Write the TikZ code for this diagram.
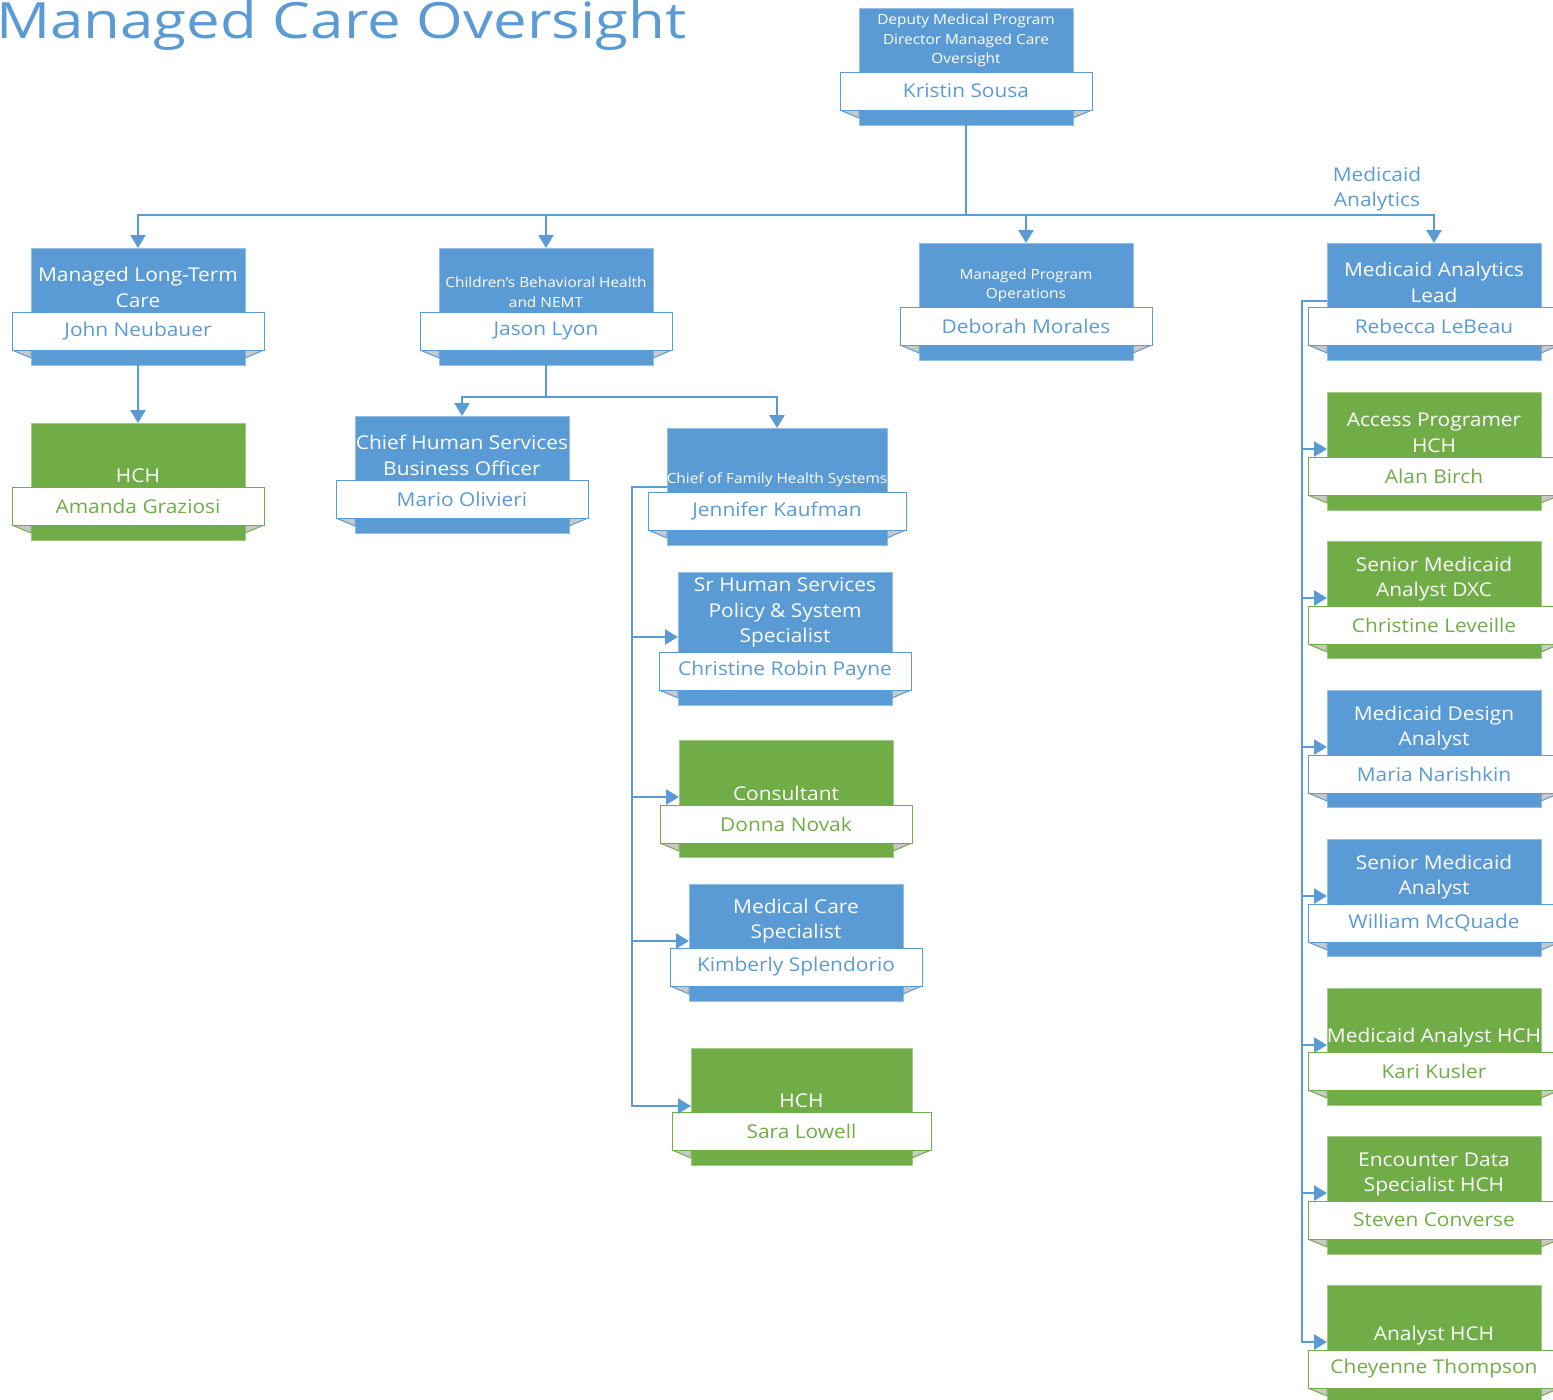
\documentclass[tikz,border=0pt]{standalone}
\usepackage{fontspec}
\setmainfont[FakeStretch=1.1]{Open Sans}
\newfontfamily\titlefont[FakeStretch=1.2]{Open Sans}
\usetikzlibrary{arrows.meta,calc}
\definecolor{oblue}{HTML}{5B9BD5}
\definecolor{ogreen}{HTML}{70AD47}
\definecolor{ofold}{HTML}{C9C9C9}
\newcommand\bigt{\fontsize{19}{25.5}\selectfont}
\newcommand\smallt{\fontsize{14}{19.5}\selectfont}
\let\ttfnt\bigt
\tikzset{
  obox/.style={rectangle, inner sep=0pt, outer sep=0pt, line width=0.8pt},
  oband/.style={rectangle, inner sep=0pt, outer sep=0pt, fill=white, line width=1pt, minimum height=38pt, font=\bigt},
  otitle/.style={text=white, align=center, inner xsep=0pt, inner ysep=4.5pt},
  conn/.style={draw=oblue, line width=2.6pt},
  arr/.style={conn, -{Triangle[width=15pt,length=13pt]}},
  lbl/.style={text=oblue, align=center, font=\bigt, inner sep=0pt}
}
% #1 id, #2 colour, #3 left, #4 top, #5 width, #6 height, #7 band offset, #8 title, #9 name
\newcommand\orgnode[9]{%
  \node[obox, fill=#2, draw=#2!65!white, minimum width=#5pt, minimum height=#6pt, anchor=north west] (#1) at (#3,#4) {};
  \coordinate (#1-bl) at ($(#1.north west)+(-19,#7+38)$);
  \coordinate (#1-br) at ($(#1.north east)+(19,#7+38)$);
  \filldraw[fill=ofold, draw=#2, line width=1pt, line join=round] (#1-bl) -- ++(19,0) -- ++(0,8) -- cycle;
  \filldraw[fill=ofold, draw=#2, line width=1pt, line join=round] (#1-br) -- ++(-19,0) -- ++(0,8) -- cycle;
  \node[oband, draw=#2, text=#2, minimum width={#5pt+38pt}, anchor=north] (#1-n) at ($(#1.north)+(0,#7)$) {#9};
  \node[otitle, font=\ttfnt, anchor=south] (#1-t) at (#1-n.north) {#8};
  \global\let\ttfnt\bigt
}
\newcommand\orgnodeS{\global\let\ttfnt\smallt\orgnode}
\begin{document}
\begin{tikzpicture}[x=1pt,y=-1pt]
\useasboundingbox (0,0) rectangle (1553,1400);
\node[anchor=base west, text=oblue, font=\titlefont\fontsize{50}{58}\selectfont, inner sep=0pt] (title) at (-4,38) {Managed Care Oversight};

\orgnodeS{top}{oblue}{859}{8}{214}{117}{64}{Deputy Medical Program\\Director Managed Care\\Oversight}{Kristin Sousa}
\orgnode{mltc}{oblue}{31}{248}{214}{117}{64}{Managed Long-Term\\Care}{John Neubauer}
\orgnodeS{cbh}{oblue}{439}{248}{214}{117}{64}{Children's Behavioral Health\\and NEMT}{Jason Lyon}
\orgnodeS{mpo}{oblue}{919}{243}{214}{117}{64}{Managed Program\\Operations}{Deborah Morales}
\orgnode{mal}{oblue}{1327}{243}{214}{117}{64}{Medicaid Analytics\\Lead}{Rebecca LeBeau}
\orgnode{hcha}{ogreen}{31}{423}{214}{117}{64}{HCH}{Amanda Graziosi}
\orgnode{chso}{oblue}{355}{416}{214}{117}{64}{Chief Human Services\\Business Officer}{Mario Olivieri}
\orgnodeS{cfhs}{oblue}{667}{428}{220}{117}{64}{Chief of Family Health Systems}{Jennifer Kaufman}
\orgnode{srhs}{oblue}{678}{572}{214}{133}{80}{Sr Human Services\\Policy \& System\\Specialist}{Christine Robin Payne}
\orgnode{cons}{ogreen}{679}{740}{214}{117}{65}{Consultant}{Donna Novak}
\orgnode{mcs}{oblue}{689}{884}{214}{117}{64}{Medical Care\\Specialist}{Kimberly Splendorio}
\orgnode{hchb}{ogreen}{691}{1048}{221}{117}{64}{HCH}{Sara Lowell}
\orgnode{aph}{ogreen}{1327}{392}{214}{118}{65}{Access Programer\\HCH}{Alan Birch}
\orgnode{smad}{ogreen}{1327}{541}{214}{117}{65}{Senior Medicaid\\Analyst DXC}{Christine Leveille}
\orgnode{mda}{oblue}{1327}{690}{214}{117}{65}{Medicaid Design\\Analyst}{Maria Narishkin}
\orgnode{sma}{oblue}{1327}{839}{214}{117}{65}{Senior Medicaid\\Analyst}{William McQuade}
\orgnode{mah}{ogreen}{1327}{988}{214}{117}{64}{Medicaid Analyst HCH}{Kari Kusler}
\orgnode{edsh}{ogreen}{1327}{1136}{214}{118}{65}{Encounter Data\\Specialist HCH}{Steven Converse}
\orgnode{ah}{ogreen}{1327}{1285}{214}{117}{65}{Analyst HCH}{Cheyenne Thompson}

% top bus
\coordinate (busa) at (0,215);
\draw[arr] (top.south) -- (top.south |- busa) -| (mltc.north);
\draw[arr] (top.south) -- (top.south |- busa) -| (cbh.north);
\draw[arr] (top.south) -- (top.south |- busa) -| (mpo.north);
\draw[arr] (top.south) -- (top.south |- busa) -| (mal.north);
\node[lbl] (mallbl) at (1377,189) {Medicaid\\Analytics};

\draw[arr] (mltc.south) -- (hcha.north);

\coordinate (busb) at (0,397);
\draw[arr] (cbh.south) -- (cbh.south |- busb) -| (chso.north);
\draw[arr] (cbh.south) -- (cbh.south |- busb) -| (cfhs.north);

% family health spine
\coordinate (spa) at (632,0);
\coordinate (cfhsA) at ($(cfhs-n.north west)+(19,-5)$);
\coordinate (srhsA) at ($(srhs.north west)+(0,65)$);
\coordinate (consA) at ($(cons.north west)+(0,57)$);
\coordinate (mcsA) at ($(mcs.north west)+(0,57)$);
\coordinate (hchbA) at ($(hchb.north west)+(0,58)$);
\foreach \t in {srhsA,consA,mcsA,hchbA}
  \draw[arr] (cfhsA) -| (spa |- \t) -- (\t);

% medicaid analytics spine
\coordinate (spb) at (1302,0);
\coordinate (malA) at ($(mal-n.north west)+(19,-6)$);
\foreach \n in {aph,smad,mda,sma,mah,edsh,ah}{
  \coordinate (\n A) at ($(\n.north west)+(0,57)$);
  \draw[arr] (malA) -| (spb |- \n A) -- (\n A);
}
\end{tikzpicture}
\end{document}
